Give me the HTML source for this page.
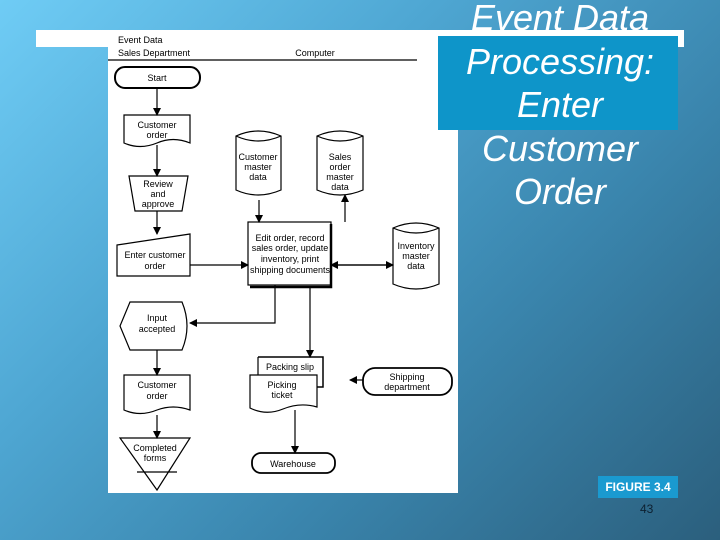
<!DOCTYPE html>
<html><head><style>
html,body{margin:0;padding:0;width:720px;height:540px;overflow:hidden}
body{background:linear-gradient(135deg,#6fccf5 0%,#4ea6d2 35%,#3a85ad 65%,#2b5f7d 100%);position:relative;font-family:"Liberation Sans",sans-serif}
.t{position:absolute;left:430px;width:260px;text-align:center;color:#fff;font-style:italic;font-size:36px;line-height:43px}
</style></head><body>
<div style="position:absolute;left:36px;top:30px;width:648px;height:17px;background:#fff"></div>
<svg width="720" height="540" style="position:absolute;left:0;top:0" font-family="Liberation Sans, sans-serif" font-size="9">
<defs><marker id="a" markerWidth="8" markerHeight="8" refX="7" refY="4" orient="auto" markerUnits="userSpaceOnUse"><path d="M0,0 L8,4 L0,8z" fill="#000"/></marker></defs>
<rect x="108" y="30" width="350" height="463" fill="#fff"/>
<g fill="none" stroke="#000" stroke-width="1.2">
<line x1="108" y1="60" x2="417" y2="60"/>
<rect x="115" y="67" width="85" height="21" rx="10" stroke-width="2"/>
<path d="M124,115 H190 V143 Q173,136 157,143 Q140,150 124,143 Z"/>
<path d="M129,176 H188 L182,211 H135 Z"/>
<path d="M117,245 L190,234 V276 H117 Z"/>
<path d="M236,136 Q258,126 281,136 V190 Q258,200 236,190 Z M236,136 Q258,146 281,136"/>
<path d="M317,136 Q340,126 363,136 V190 Q340,200 317,190 Z M317,136 Q340,146 363,136"/>
<path d="M393,228 Q416,218 439,228 V284 Q416,294 393,284 Z M393,228 Q416,238 439,228"/>
<rect x="248" y="222" width="83" height="63"/>
<path d="M331,224 V287 H250" stroke-width="2.5"/>
<path d="M190,265 H248" marker-end="url(#a)"/>
<path d="M331,265 H393" marker-end="url(#a)"/>
<path d="M393,265 H331" marker-end="url(#a)"/>
<path d="M259,200 V222" marker-end="url(#a)"/>
<path d="M345,222 V195" marker-end="url(#a)"/>
<path d="M157,88 V115" marker-end="url(#a)"/>
<path d="M157,145 V176" marker-end="url(#a)"/>
<path d="M157,211 V234" marker-end="url(#a)"/>
<path d="M275,285 V323 H190" marker-end="url(#a)"/>
<path d="M310,287 V357" marker-end="url(#a)"/>
<path d="M130,302 H182 Q192,326 182,350 H130 L120,326 Z"/>
<path d="M157,350 V375" marker-end="url(#a)"/>
<path d="M124,375 H190 V410 Q173,404 157,410 Q140,417 124,410 Z"/>
<path d="M157,415 V438" marker-end="url(#a)"/>
<path d="M120,438 H190 L157,490 Z M137,472 H177"/>
<path d="M258,357 H323 V387 H317" stroke-width="1.5"/>
<path d="M258,357 V375" />
<path d="M250,375 H317 V407 Q300,402 283,409 Q266,416 250,408 Z" fill="#fff"/>
<path d="M295,410 V453" marker-end="url(#a)"/>
<rect x="252" y="453" width="83" height="20" rx="9" stroke-width="1.8"/>
<rect x="363" y="368" width="89" height="27" rx="12" stroke-width="1.8"/>
<path d="M363,380 H350" marker-end="url(#a)"/>
</g>
<g fill="#000" text-anchor="middle">
<text x="118" y="43" text-anchor="start">Event Data</text>
<text x="118" y="56" text-anchor="start">Sales Department</text>
<text x="315" y="56">Computer</text>
<text x="157" y="81">Start</text>
<text x="157" y="128">Customer</text><text x="157" y="138">order</text>
<text x="158" y="187">Review</text><text x="158" y="197">and</text><text x="158" y="207">approve</text>
<text x="155" y="258">Enter customer</text><text x="155" y="269">order</text>
<text x="258" y="160">Customer</text><text x="258" y="170">master</text><text x="258" y="180">data</text>
<text x="340" y="160">Sales</text><text x="340" y="170">order</text><text x="340" y="180">master</text><text x="340" y="190">data</text>
<text x="416" y="249">Inventory</text><text x="416" y="259">master</text><text x="416" y="269">data</text>
<text x="290" y="241">Edit order, record</text><text x="290" y="251">sales order, update</text><text x="290" y="262">inventory, print</text><text x="290" y="273">shipping documents</text>
<text x="157" y="321">Input</text><text x="157" y="332">accepted</text>
<text x="157" y="388">Customer</text><text x="157" y="399">order</text>
<text x="155" y="451">Completed</text><text x="155" y="461">forms</text>
<text x="290" y="370">Packing slip</text>
<text x="282" y="388">Picking</text><text x="282" y="398">ticket</text>
<text x="293" y="467">Warehouse</text>
<text x="407" y="380">Shipping</text><text x="407" y="390">department</text>
</g>
</svg>
<div style="position:absolute;left:438px;top:36px;width:240px;height:94px;background:#0e95c9"></div>
<div class="t" style="top:-4px">Event Data</div>
<div class="t" style="top:40px">Processing:</div>
<div class="t" style="top:83px">Enter</div>
<div class="t" style="top:127px">Customer</div>
<div class="t" style="top:170px">Order</div>
<div style="position:absolute;left:598px;top:476px;width:80px;height:22px;background:#1a9ad0;color:#fff;font-size:12px;font-weight:bold;line-height:22px;text-align:center">FIGURE 3.4</div>
<div style="position:absolute;left:640px;top:502px;color:#0d2030;font-size:12px">43</div>
</body></html>
